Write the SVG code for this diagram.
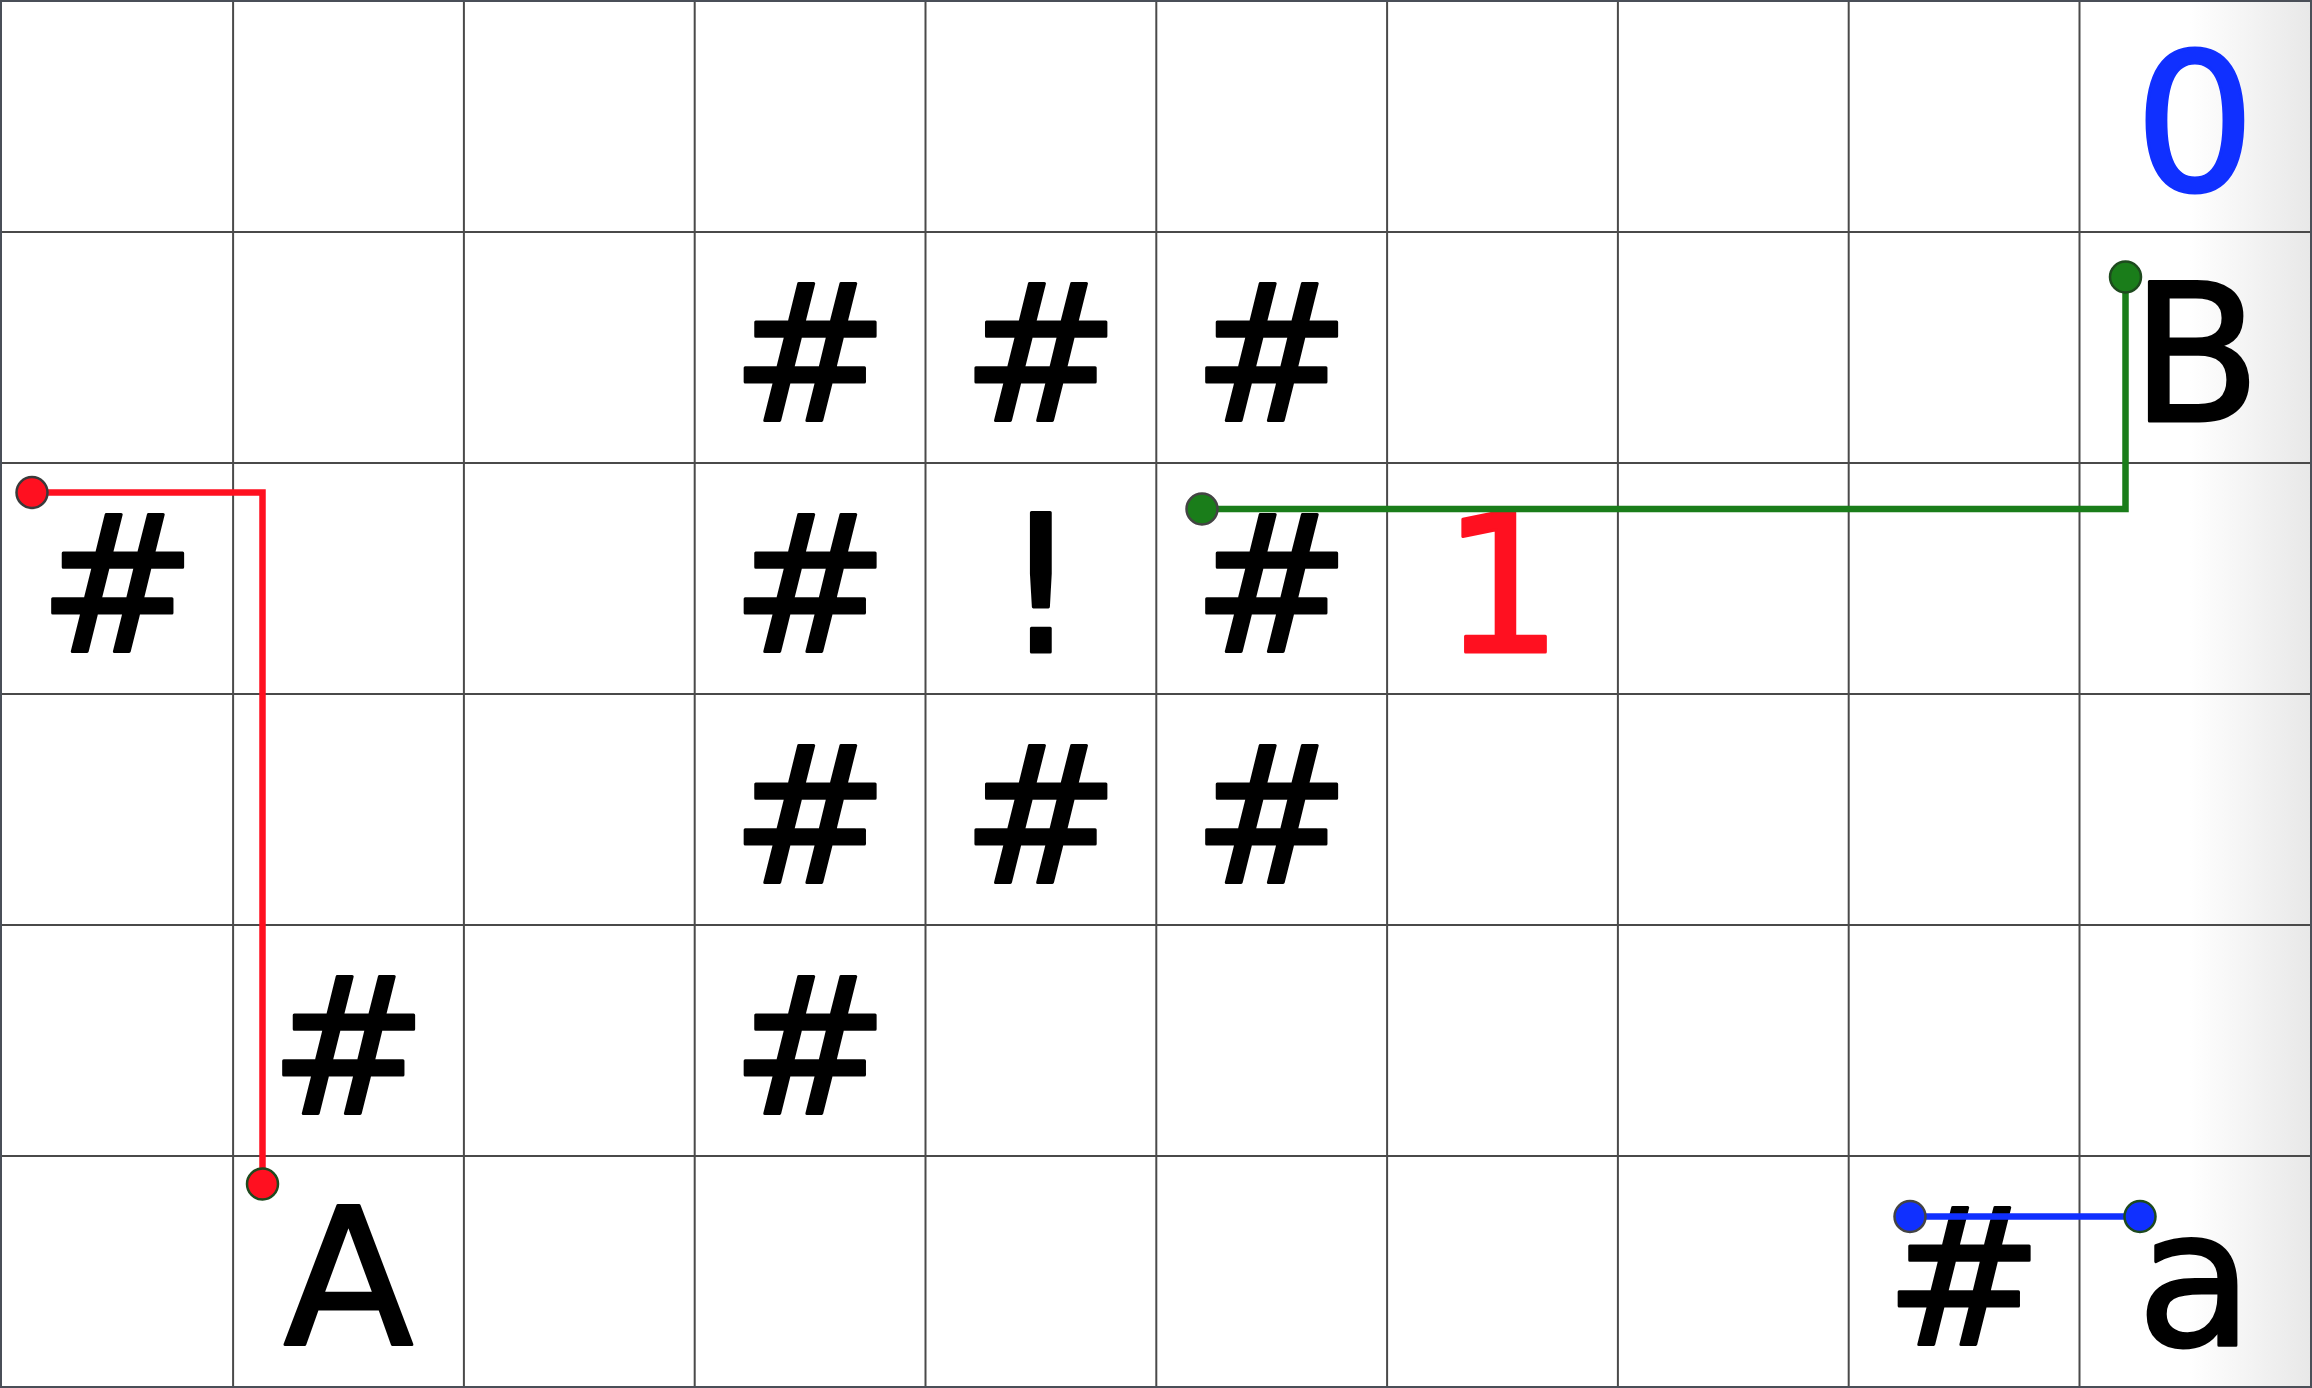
<svg xmlns="http://www.w3.org/2000/svg" width="2312" height="1388" viewBox="0 0 2312 1388">
<style>
.grid line{stroke:#4a4a4a;stroke-width:2}
.t{font-family:"DejaVu Sans",sans-serif;font-size:190px;text-anchor:middle;fill:#000;stroke:#000;stroke-width:3;stroke-linejoin:round}
.red{fill:#ff1020;stroke:#ff1020}
.blue{fill:#1030ff;stroke:#1030ff}
.conn polyline,.conn line{fill:none;stroke-width:6.5}
.dot{stroke-width:2.5}
</style>
<defs>
<linearGradient id="edge" x1="0" y1="0" x2="1" y2="0">
<stop offset="0" stop-color="#ffffff"/>
<stop offset="1" stop-color="#e8e8e8"/>
</linearGradient>
</defs>
<rect x="0" y="0" width="2312" height="1388" fill="#ffffff"/>
<rect x="2190" y="0" width="120" height="1388" fill="url(#edge)"/>
<g class="grid" id="grid">
<line x1="233.1" y1="0" x2="233.1" y2="1388"/>
<line x1="463.9" y1="0" x2="463.9" y2="1388"/>
<line x1="694.7" y1="0" x2="694.7" y2="1388"/>
<line x1="925.5" y1="0" x2="925.5" y2="1388"/>
<line x1="1156.3" y1="0" x2="1156.3" y2="1388"/>
<line x1="1387.1" y1="0" x2="1387.1" y2="1388"/>
<line x1="1617.9" y1="0" x2="1617.9" y2="1388"/>
<line x1="1848.7" y1="0" x2="1848.7" y2="1388"/>
<line x1="2079.5" y1="0" x2="2079.5" y2="1388"/>
<line x1="0" y1="232" x2="2312" y2="232"/>
<line x1="0" y1="463" x2="2312" y2="463"/>
<line x1="0" y1="694" x2="2312" y2="694"/>
<line x1="0" y1="925" x2="2312" y2="925"/>
<line x1="0" y1="1156" x2="2312" y2="1156"/>
</g>
<rect x="1" y="1" width="2310" height="1386" fill="none" stroke="#4a4f58" stroke-width="2"/>
<g id="cells">
<g id="h-3-1"><text class="t" x="810.1" y="421">#</text></g>
<g id="h-4-1"><text class="t" x="1040.9" y="421">#</text></g>
<g id="h-5-1"><text class="t" x="1271.7" y="421">#</text></g>
<g id="h-0-2"><text class="t" x="117.7" y="652">#</text></g>
<g id="h-3-2"><text class="t" x="810.1" y="652">#</text></g>
<g id="bang-4-2"><text class="t" x="1040.9" y="652">!</text></g>
<g id="h-5-2"><text class="t" x="1271.7" y="652">#</text></g>
<g id="h-3-3"><text class="t" x="810.1" y="883">#</text></g>
<g id="h-4-3"><text class="t" x="1040.9" y="883">#</text></g>
<g id="h-5-3"><text class="t" x="1271.7" y="883">#</text></g>
<g id="h-1-4"><text class="t" x="348.5" y="1114">#</text></g>
<g id="h-3-4"><text class="t" x="810.1" y="1114">#</text></g>
<g id="h-8-5"><text class="t" x="1964.1" y="1345">#</text></g>
<g id="label-0"><text class="t blue" x="2194.9" y="190">0</text></g>
<g id="label-B"><text class="t" x="2196" y="421">B</text></g>
<g id="label-1"><text class="t red" x="1502.5" y="652">1</text></g>
<g id="label-A"><text class="t" x="348.5" y="1345">A</text></g>
<g id="label-a"><text class="t" x="2194.9" y="1345">a</text></g>
</g>
<g class="conn" id="connectors">
<polyline points="32,492.5 262.5,492.5 262.5,1184" stroke="#ff1020"/>
<polyline points="1202,509 2125.5,509 2125.5,277" stroke="#1a7d1a"/>
<line x1="1910" y1="1216.5" x2="2140" y2="1216.5" stroke="#1030ff" stroke-width="5.5"/>
<circle class="dot" cx="32" cy="492.5" r="15.5" fill="#ff1020" stroke="#3a3a3a"/>
<circle class="dot" cx="262.5" cy="1184" r="15.5" fill="#ff1020" stroke="#1e4a1e"/>
<circle class="dot" cx="1202" cy="509" r="15.5" fill="#1a7d1a" stroke="#444"/>
<circle class="dot" cx="2125.5" cy="277" r="15.5" fill="#1a7d1a" stroke="#1e4a1e"/>
<circle class="dot" cx="1910" cy="1216.5" r="15.5" fill="#1030ff" stroke="#444"/>
<circle class="dot" cx="2140" cy="1216.5" r="15.5" fill="#1030ff" stroke="#1e4a1e"/>
</g>
</svg>
